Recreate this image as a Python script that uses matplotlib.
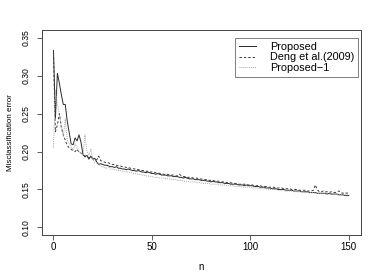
import numpy as np
import matplotlib
matplotlib.use("Agg")
import matplotlib.pyplot as plt

plt.rcParams['font.family'] = ['Liberation Sans', 'DejaVu Sans']

n = np.arange(0, 151)

proposed = [
    0.333, 0.244, 0.303, 0.290, 0.275, 0.262, 0.262, 0.240, 0.225, 0.210,
    0.209, 0.218, 0.214, 0.222, 0.212, 0.196, 0.193, 0.195, 0.190, 0.194,
    0.190, 0.191, 0.186, 0.183, 0.184, 0.183, 0.182, 0.182, 0.181, 0.180,
    0.180, 0.179, 0.180, 0.178, 0.178, 0.177, 0.177, 0.176, 0.177, 0.176,
    0.175, 0.175, 0.174, 0.175, 0.174, 0.173, 0.173, 0.172, 0.173, 0.172,
    0.171, 0.171, 0.170, 0.171, 0.170, 0.169, 0.169, 0.169, 0.168, 0.168,
    0.168, 0.167, 0.167, 0.167, 0.166, 0.166, 0.165, 0.166, 0.165, 0.164,
    0.164, 0.164, 0.163, 0.163, 0.163, 0.162, 0.162, 0.162, 0.161, 0.161,
    0.160, 0.161, 0.160, 0.160, 0.159, 0.159, 0.159, 0.158, 0.158, 0.158,
    0.157, 0.157, 0.157, 0.157, 0.156, 0.156, 0.156, 0.155, 0.156, 0.155,
    0.155, 0.155, 0.154, 0.154, 0.154, 0.153, 0.153, 0.153, 0.152, 0.152,
    0.152, 0.151, 0.151, 0.151, 0.150, 0.150, 0.150, 0.150, 0.149, 0.149,
    0.149, 0.149, 0.148, 0.148, 0.148, 0.148, 0.147, 0.147, 0.147, 0.147,
    0.146, 0.146, 0.146, 0.146, 0.145, 0.145, 0.145, 0.145, 0.145, 0.144,
    0.145, 0.144, 0.144, 0.144, 0.144, 0.143, 0.143, 0.143, 0.142, 0.142,
    0.142,
]

deng = [
    0.330, 0.226, 0.235, 0.250, 0.232, 0.222, 0.215, 0.208, 0.205, 0.203,
    0.201, 0.200, 0.203, 0.199, 0.198, 0.196, 0.194, 0.193, 0.192, 0.192,
    0.191, 0.190, 0.189, 0.194, 0.188, 0.187, 0.186, 0.185, 0.185, 0.184,
    0.183, 0.183, 0.182, 0.181, 0.181, 0.180, 0.180, 0.179, 0.179, 0.178,
    0.178, 0.177, 0.177, 0.176, 0.176, 0.175, 0.175, 0.174, 0.174, 0.173,
    0.173, 0.173, 0.172, 0.172, 0.171, 0.171, 0.170, 0.170, 0.170, 0.169,
    0.169, 0.169, 0.168, 0.168, 0.170, 0.168, 0.167, 0.167, 0.166, 0.166,
    0.166, 0.165, 0.165, 0.165, 0.164, 0.164, 0.163, 0.163, 0.163, 0.162,
    0.162, 0.162, 0.161, 0.161, 0.161, 0.160, 0.160, 0.160, 0.159, 0.159,
    0.159, 0.158, 0.158, 0.158, 0.157, 0.157, 0.157, 0.157, 0.156, 0.156,
    0.156, 0.156, 0.155, 0.155, 0.155, 0.155, 0.154, 0.154, 0.154, 0.153,
    0.153, 0.153, 0.153, 0.152, 0.152, 0.152, 0.152, 0.151, 0.151, 0.151,
    0.151, 0.150, 0.150, 0.150, 0.150, 0.149, 0.149, 0.149, 0.149, 0.148,
    0.148, 0.148, 0.149, 0.156, 0.150, 0.147, 0.147, 0.148, 0.147, 0.147,
    0.146, 0.147, 0.146, 0.146, 0.147, 0.148, 0.146, 0.145, 0.146, 0.145,
    0.146,
]

proposed_1 = [
    0.205, 0.280, 0.262, 0.250, 0.232, 0.220, 0.243, 0.215, 0.210, 0.206,
    0.202, 0.210, 0.205, 0.200, 0.198, 0.195, 0.222, 0.200, 0.195, 0.203,
    0.190, 0.186, 0.185, 0.183, 0.181, 0.180, 0.179, 0.178, 0.180, 0.177,
    0.177, 0.176, 0.176, 0.175, 0.175, 0.174, 0.174, 0.173, 0.173, 0.172,
    0.172, 0.171, 0.171, 0.170, 0.170, 0.169, 0.169, 0.168, 0.168, 0.167,
    0.167, 0.166, 0.166, 0.166, 0.165, 0.165, 0.165, 0.164, 0.164, 0.164,
    0.163, 0.163, 0.163, 0.162, 0.162, 0.162, 0.161, 0.161, 0.161, 0.160,
    0.160, 0.160, 0.160, 0.159, 0.159, 0.159, 0.158, 0.158, 0.158, 0.158,
    0.157, 0.157, 0.157, 0.157, 0.156, 0.156, 0.156, 0.156, 0.155, 0.155,
    0.155, 0.155, 0.154, 0.154, 0.154, 0.154, 0.153, 0.153, 0.153, 0.153,
    0.153, 0.152, 0.152, 0.152, 0.152, 0.151, 0.151, 0.151, 0.151, 0.150,
    0.150, 0.150, 0.150, 0.150, 0.149, 0.149, 0.149, 0.149, 0.148, 0.148,
    0.148, 0.148, 0.148, 0.147, 0.147, 0.147, 0.147, 0.147, 0.146, 0.146,
    0.146, 0.146, 0.146, 0.145, 0.145, 0.145, 0.145, 0.145, 0.144, 0.144,
    0.144, 0.144, 0.144, 0.144, 0.143, 0.143, 0.143, 0.143, 0.143, 0.143,
    0.143,
]

x_ticks = [0, 50, 100, 150]
y_ticks = [0.10, 0.15, 0.20, 0.25, 0.30, 0.35]

fig = plt.figure(figsize=(3.82, 2.73), dpi=100)
ax = fig.add_axes([0.109, 0.139, 0.835, 0.751])

ax.plot(n, proposed, color='#2a2a2a', lw=0.7, ls='-', label='Proposed')
ax.plot(n, deng, color='#3a3a3a', lw=0.7, ls=(0, (2.5, 2)), label='Deng et al.(2009)')
ax.plot(n, proposed_1, color='#aaaaaa', lw=0.7, ls=(0, (1, 1)), label='Proposed\u22121')

ax.set_xlim(-6, 156)
ax.set_ylim(0.09, 0.36)
ax.set_xticks(x_ticks)
ax.set_xticklabels([str(t) for t in x_ticks], fontsize=7)
ax.set_yticks(y_ticks)
ax.set_yticklabels(['%.2f' % t for t in y_ticks], fontsize=6.2, rotation=90, va='center')
ax.tick_params(axis='both', length=3.6, width=0.6, color='#444444')
ax.tick_params(axis='x', pad=1.5)
ax.tick_params(axis='y', pad=4)
for s in ax.spines.values():
    s.set_linewidth(0.7)
    s.set_color('#444444')

ax.set_xlabel('n', fontsize=7, labelpad=7)
ax.set_ylabel('Misclassification error', fontsize=5.8, labelpad=6)

leg = ax.legend(loc='upper right', bbox_to_anchor=(0.992, 0.961), fontsize=7.8,
                frameon=True, fancybox=False, edgecolor='#444444',
                handlelength=1.6, handletextpad=1.3, labelspacing=0.05,
                borderpad=0.35, borderaxespad=0)
leg.get_frame().set_linewidth(0.6)

fig.savefig('out.png', dpi=100)
